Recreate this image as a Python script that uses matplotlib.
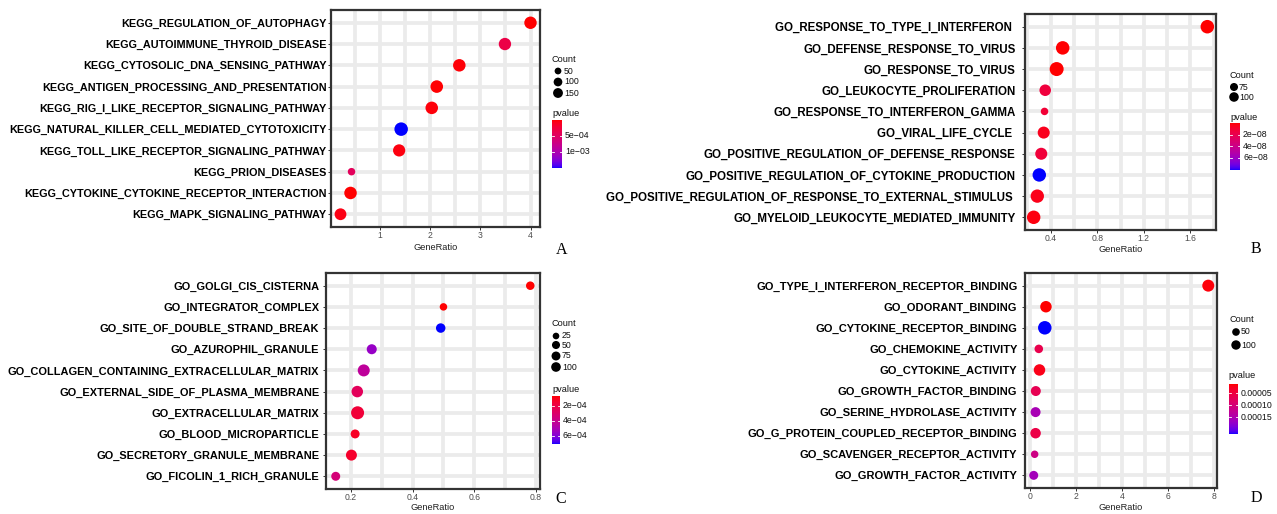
import numpy as np
import matplotlib
matplotlib.use("Agg")
import matplotlib.pyplot as plt
from matplotlib.colors import ListedColormap, Normalize
from matplotlib.transforms import blended_transform_factory

# ---------------- data ----------------
a_terms = ["KEGG_REGULATION_OF_AUTOPHAGY", "KEGG_AUTOIMMUNE_THYROID_DISEASE",
           "KEGG_CYTOSOLIC_DNA_SENSING_PATHWAY", "KEGG_ANTIGEN_PROCESSING_AND_PRESENTATION",
           "KEGG_RIG_I_LIKE_RECEPTOR_SIGNALING_PATHWAY", "KEGG_NATURAL_KILLER_CELL_MEDIATED_CYTOTOXICITY",
           "KEGG_TOLL_LIKE_RECEPTOR_SIGNALING_PATHWAY", "KEGG_PRION_DISEASES",
           "KEGG_CYTOKINE_CYTOKINE_RECEPTOR_INTERACTION", "KEGG_MAPK_SIGNALING_PATHWAY"]
a_ratio = [4.00, 3.49, 2.58, 2.13, 2.03, 1.42, 1.38, 0.43, 0.41, 0.21]
a_count = [125, 122, 128, 130, 128, 165, 118, 42, 128, 105]
a_pvalue = [5e-6, 3.2e-4, 2e-5, 1e-5, 3e-5, 1.52e-3, 4e-5, 4.5e-4, 2e-6, 6e-5]
a_xticks = [1, 2, 3, 4]
a_xticklabels = ["1", "2", "3", "4"]
a_size_breaks = [50, 100, 150]
a_p_breaks = [5e-4, 1e-3]
a_p_labels = ["5e\u221204", "1e\u221203"]

b_terms = ["GO_RESPONSE_TO_TYPE_I_INTERFERON ", "GO_DEFENSE_RESPONSE_TO_VIRUS",
           "GO_RESPONSE_TO_VIRUS", "GO_LEUKOCYTE_PROLIFERATION",
           "GO_RESPONSE_TO_INTERFERON_GAMMA", "GO_VIRAL_LIFE_CYCLE ",
           "GO_POSITIVE_REGULATION_OF_DEFENSE_RESPONSE", "GO_POSITIVE_REGULATION_OF_CYTOKINE_PRODUCTION",
           "GO_POSITIVE_REGULATION_OF_RESPONSE_TO_EXTERNAL_STIMULUS ", "GO_MYELOID_LEUKOCYTE_MEDIATED_IMMUNITY"]
b_ratio = [1.745, 0.504, 0.452, 0.354, 0.348, 0.341, 0.320, 0.303, 0.286, 0.255]
b_count = [113, 113, 122, 84, 60, 90, 90, 112, 110, 112]
b_pvalue = [1e-12, 5e-10, 2e-10, 1.4e-8, 1.2e-8, 5e-9, 1.3e-8, 8.1e-8, 4e-9, 2e-9]
b_xticks = [0.4, 0.8, 1.2, 1.6]
b_xticklabels = ["0.4", "0.8", "1.2", "1.6"]
b_size_breaks = [75, 100]
b_p_breaks = [2e-8, 4e-8, 6e-8]
b_p_labels = ["2e\u221208", "4e\u221208", "6e\u221208"]

c_terms = ["GO_GOLGI_CIS_CISTERNA", "GO_INTEGRATOR_COMPLEX", "GO_SITE_OF_DOUBLE_STRAND_BREAK",
           "GO_AZUROPHIL_GRANULE", "GO_COLLAGEN_CONTAINING_EXTRACELLULAR_MATRIX",
           "GO_EXTERNAL_SIDE_OF_PLASMA_MEMBRANE", "GO_EXTRACELLULAR_MATRIX",
           "GO_BLOOD_MICROPARTICLE", "GO_SECRETORY_GRANULE_MEMBRANE", "GO_FICOLIN_1_RICH_GRANULE"]
c_ratio = [0.782, 0.500, 0.491, 0.267, 0.241, 0.220, 0.221, 0.213, 0.201, 0.150]
c_count = [23, 20, 31, 38, 77, 65, 105, 26, 54, 26]
c_pvalue = [7e-5, 7.5e-5, 7.1e-4, 5.6e-4, 4.4e-4, 2.6e-4, 1.7e-4, 1.2e-4, 1.4e-4, 3.4e-4]
c_xticks = [0.2, 0.4, 0.6, 0.8]
c_xticklabels = ["0.2", "0.4", "0.6", "0.8"]
c_size_breaks = [25, 50, 75, 100]
c_p_breaks = [2e-4, 4e-4, 6e-4]
c_p_labels = ["2e\u221204", "4e\u221204", "6e\u221204"]

d_terms = ["GO_TYPE_I_INTERFERON_RECEPTOR_BINDING", "GO_ODORANT_BINDING",
           "GO_CYTOKINE_RECEPTOR_BINDING", "GO_CHEMOKINE_ACTIVITY", "GO_CYTOKINE_ACTIVITY",
           "GO_GROWTH_FACTOR_BINDING", "GO_SERINE_HYDROLASE_ACTIVITY",
           "GO_G_PROTEIN_COUPLED_RECEPTOR_BINDING", "GO_SCAVENGER_RECEPTOR_ACTIVITY",
           "GO_GROWTH_FACTOR_ACTIVITY"]
d_ratio = [7.74, 0.70, 0.65, 0.39, 0.42, 0.26, 0.25, 0.25, 0.21, 0.17]
d_count = [86, 74, 130, 33, 74, 47, 47, 55, 30, 36]
d_pvalue = [1.5e-5, 1.1e-5, 2.2e-4, 6e-5, 2e-5, 6.5e-5, 1.55e-4, 5.5e-5, 1.1e-4, 1.6e-4]
d_xticks = [0, 2, 4, 6, 8]
d_xticklabels = ["0", "2", "4", "6", "8"]
d_size_breaks = [50, 100]
d_p_breaks = [5e-5, 1e-4, 1.5e-4]
d_p_labels = ["0.00005", "0.00010", "0.00015"]

# ---------------- colour map (Lab interpolation red -> blue, like ggplot) ----------------
_M = np.array([[0.4124564, 0.3575761, 0.1804375],
               [0.2126729, 0.7151522, 0.0721750],
               [0.0193339, 0.1191920, 0.9503041]])
_WHITE = np.array([0.95047, 1.0, 1.08883])


def srgb_to_lab(rgb):
    rgb = np.asarray(rgb, float)
    lin = np.where(rgb <= 0.04045, rgb / 12.92, ((rgb + 0.055) / 1.055) ** 2.4)
    xyz = lin @ _M.T
    t = xyz / _WHITE
    d = 6 / 29
    f = np.where(t > d ** 3, np.cbrt(t), t / (3 * d * d) + 4 / 29)
    return np.stack([116 * f[..., 1] - 16, 500 * (f[..., 0] - f[..., 1]),
                     200 * (f[..., 1] - f[..., 2])], -1)


def lab_to_srgb(lab):
    L, a, b = lab[..., 0], lab[..., 1], lab[..., 2]
    fy = (L + 16) / 116
    f = np.stack([fy + a / 500, fy, fy - b / 200], -1)
    d = 6 / 29
    t = np.where(f > d, f ** 3, 3 * d * d * (f - 4 / 29))
    lin = np.clip((t * _WHITE) @ np.linalg.inv(_M).T, 0, 1)
    rgb = np.where(lin <= 0.0031308, 12.92 * lin, 1.055 * lin ** (1 / 2.4) - 0.055)
    return np.clip(rgb, 0, 1)


lab_lo = srgb_to_lab([1.0, 0.0, 0.0])
lab_hi = srgb_to_lab([0.0, 0.0, 1.0])
tt = np.linspace(0, 1, 256)[:, None]
cmap = ListedColormap(lab_to_srgb(lab_lo * (1 - tt) + lab_hi * tt))

# ---------------- figure ----------------
W, H = 1277, 514
fig = plt.figure(figsize=(W / 100, H / 100), dpi=100)
plt.rcParams["font.family"] = ["Liberation Sans", "DejaVu Sans"]

ov = fig.add_axes([0, 0, 1, 1], zorder=10)
ov.set_xlim(0, W)
ov.set_ylim(H, 0)
ov.axis("off")
ov.patch.set_alpha(0)

LEG_F = 0.75
LEG_FS = 6.3


def px_axes(l, t, r, b, **kw):
    return fig.add_axes([l / W, 1 - b / H, (r - l) / W, (b - t) / H], **kw)


def panel(box, terms, ratio, count, pvalue, xticks, xticklabels, size_breaks,
          p_breaks, p_labels, dmin, dmax, leg, cbox, letter, lpos, yfs, ypad, xlab_y):
    ax = px_axes(*box)
    n = len(terms)
    y = np.arange(n, 0, -1)
    cnt = np.asarray(count, float)
    cmin, cmax = cnt.min(), cnt.max()

    def diam(c):
        frac = np.clip((np.asarray(c, float) - cmin) / (cmax - cmin), 0, 1)
        return dmin + (dmax - dmin) * np.sqrt(frac)

    norm = Normalize(min(pvalue), max(pvalue))
    ax.scatter(ratio, y, s=(diam(cnt) * 0.72) ** 2, c=pvalue, cmap=cmap, norm=norm,
               linewidths=0, zorder=3)
    xr = max(ratio) - min(ratio)
    ax.set_xlim(min(ratio) - 0.05 * xr, max(ratio) + 0.05 * xr)
    ax.set_ylim(0.4, n + 0.6)
    ax.set_yticks(y)
    ax.set_yticklabels(terms, fontweight="bold", fontsize=yfs, color="black")
    ax.set_xticks(xticks)
    ax.set_xticklabels(xticklabels, fontsize=6.2, color="#4D4D4D")
    step = xticks[1] - xticks[0]
    lo, hi = ax.get_xlim()
    minors = np.arange(xticks[0] - step * 3, xticks[-1] + step * 3, step / 2)
    minors = [m for m in minors if lo < m < hi]
    ax.set_xticks(minors, minor=True)
    ax.tick_params(which="minor", length=0)
    ax.tick_params(which="major", length=2.2, width=0.7, color="#333333")
    ax.tick_params(axis="x", pad=1.0)
    ax.tick_params(axis="y", pad=ypad)
    ax.grid(True, which="major", color="#EBEBEB", lw=2.7)
    ax.grid(True, which="minor", axis="x", color="#EBEBEB", lw=2.7)
    ax.set_axisbelow(True)
    for sp in ax.spines.values():
        sp.set_color("#333333")
        sp.set_linewidth(1.6)
    ax.set_xlabel("GeneRatio", fontsize=6.7, color="#222222", va="center")
    l, t, r, b = box
    ax.xaxis.set_label_coords(0.5, -(xlab_y - b) / (b - t))

    # size legend
    tx, ty, dx, dys, lx = leg["count"]
    ov.text(tx, ty, "Count", fontsize=LEG_FS + 0.3, va="center", ha="left", color="#111111")
    ov.scatter([dx] * len(size_breaks), dys, s=(diam(size_breaks) * LEG_F * 0.72) ** 2,
               c="black", linewidths=0)
    for v, yy in zip(size_breaks, dys):
        ov.text(lx, yy, str(v), fontsize=LEG_FS, va="center", ha="left", color="#111111")
    px, py = leg["p"]
    ov.text(px, py, "pvalue", fontsize=LEG_FS + 0.3, va="center", ha="left", color="#111111")

    # colour bar (low p-values on top)
    cax = px_axes(*cbox)
    pmin, pmax = min(pvalue), max(pvalue)
    edges = np.linspace(pmin, pmax, 201)
    mids = 0.5 * (edges[1:] + edges[:-1])
    cax.pcolormesh([0, 1], edges, mids.reshape(-1, 1), cmap=cmap, norm=norm,
                   shading="flat", antialiased=False)
    cax.set_xlim(0, 1)
    cax.set_ylim(pmax, pmin)
    cax.axis("off")
    tr = blended_transform_factory(cax.transAxes, cax.transData)
    for b_, lab in zip(p_breaks, p_labels):
        cax.plot([0, 0.2], [b_, b_], color="white", lw=0.6, transform=tr)
        cax.plot([0.8, 1], [b_, b_], color="white", lw=0.6, transform=tr)
        cax.text(1.3, b_, lab, fontsize=LEG_FS, va="center", ha="left", transform=tr,
                 color="#111111")

    ov.text(lpos[0], lpos[1], letter, fontsize=11.5, ha="center", va="center",
            family=["Liberation Serif", "DejaVu Serif"])
    return ax


panel((331, 10, 540, 227), a_terms, a_ratio, a_count, a_pvalue, a_xticks, a_xticklabels,
      a_size_breaks, a_p_breaks, a_p_labels, 7.5, 13.5,
      {"count": (552, 60, 558, [71, 82, 93], 564), "p": (552, 113)},
      (552, 120, 562, 168), "A", (562, 250), 7.85, 1.0, 248)
panel((1025, 14, 1216, 230), b_terms, b_ratio, b_count, b_pvalue, b_xticks, b_xticklabels,
      b_size_breaks, b_p_breaks, b_p_labels, 7.5, 14,
      {"count": (1230, 76, 1234, [87, 97], 1239), "p": (1230, 117)},
      (1230, 123, 1240, 170), "B", (1256, 249), 8.3, 4.6, 249)
panel((326, 273, 540, 489), c_terms, c_ratio, c_count, c_pvalue, c_xticks, c_xticklabels,
      c_size_breaks, c_p_breaks, c_p_labels, 7.5, 13,
      {"count": (552, 324, 556, [336, 345, 356, 367], 562), "p": (552, 389)},
      (552, 396, 560, 444), "C", (561, 499), 7.9, 2.5, 507.5)
panel((1025, 273, 1217, 488), d_terms, d_ratio, d_count, d_pvalue, d_xticks, d_xticklabels,
      d_size_breaks, d_p_breaks, d_p_labels, 7.5, 13.5,
      {"count": (1230, 320, 1236, [332, 345], 1241), "p": (1228, 376)},
      (1229, 384, 1238, 434), "D", (1256, 498), 8.0, 3.2, 507.5)

fig.savefig("out.png", dpi=100, facecolor="white")
